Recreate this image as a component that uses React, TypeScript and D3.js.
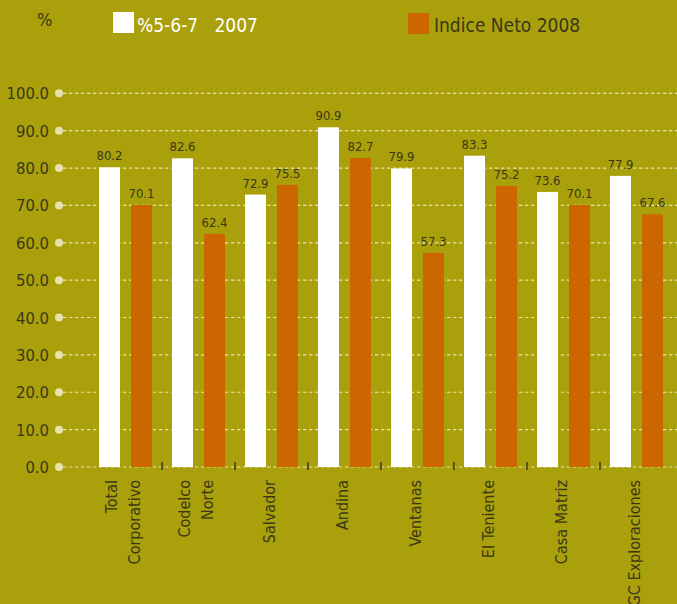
import React from "react";
import * as d3 from "d3";

const categories = [
  "Total Corporativo",
  "Codelco Norte",
  "Salvador",
  "Andina",
  "Ventanas",
  "El Teniente",
  "Casa Matriz",
  "GC Exploraciones",
];
const categoryLines = [
  ["Total", "Corporativo"],
  ["Codelco", "Norte"],
  ["Salvador"],
  ["Andina"],
  ["Ventanas"],
  ["El Teniente"],
  ["Casa Matriz"],
  ["GC Exploraciones"],
];
const series2007 = [80.2, 82.6, 72.9, 90.9, 79.9, 83.3, 73.6, 77.9];
const series2008 = [70.1, 62.4, 75.5, 82.7, 57.3, 75.2, 70.1, 67.6];
const seriesNames = ["%5-6-7   2007", "Indice Neto 2008"];
const yTicks = [0, 10, 20, 30, 40, 50, 60, 70, 80, 90, 100];

const W = 677;
const H = 604;
const BG = "#aaa00b";
const ORANGE = "#cc6600";
const WHITE = "#ffffff";
const DARK = "#3a3818";
const CREAM = "#e6e2b0";
const FONT = "'DejaVu Sans Condensed', 'Liberation Sans Narrow', Roboto, sans-serif";

export default function App() {
  const y = d3.scaleLinear().domain([0, 100]).range([467, 93.3]);
  const x = d3.scaleBand().domain(categories).range([89, 673]).padding(0);
  const inner = d3
    .scaleBand()
    .domain(["a", "b"])
    .range([-26.5, 26.5])
    .paddingInner(0.344)
    .paddingOuter(0);
  const bw = inner.bandwidth();
  const colors = [WHITE, ORANGE];
  const data = [series2007, series2008];

  return (
    <svg
      width={W}
      height={H}
      style={{ position: "absolute", left: 0, top: 0, display: "block" }}
      fontFamily={FONT}
    >
      <rect x={0} y={0} width={W} height={H} fill={BG} />

      {/* gridlines */}
      {yTicks.map((t) => (
        <g key={"g" + t}>
          <line
            x1={63}
            x2={W}
            y1={y(t)}
            y2={y(t)}
            stroke={CREAM}
            strokeWidth={1.2}
            strokeDasharray="3.3,2.7"
          />
          <circle cx={59} cy={y(t)} r={4} fill={CREAM} />
          <text
            x={49}
            y={y(t) + 6}
            textAnchor="end"
            fontSize={16.5}
            fill={DARK}
          >
            {t.toFixed(1)}
          </text>
        </g>
      ))}

      {/* bars */}
      {categories.map((c, i) => {
        const cx = (x(c) as number) + x.bandwidth() / 2;
        return (
          <g key={c}>
            {data.map((s, j) => {
              const bx = cx + (inner(j === 0 ? "a" : "b") as number);
              const v = s[i];
              return (
                <g key={j}>
                  <rect
                    x={bx}
                    y={y(v)}
                    width={bw}
                    height={y(0) - y(v)}
                    fill={colors[j]}
                  />
                  <text
                    x={bx + bw / 2}
                    y={y(v) - 7}
                    textAnchor="middle"
                    fontSize={13}
                    fill={DARK}
                  >
                    {v.toFixed(1)}
                  </text>
                </g>
              );
            })}
          </g>
        );
      })}

      {/* x ticks */}
      {categories.slice(1).map((c) => {
        const tx = x(c) as number;
        return (
          <line
            key={"t" + c}
            x1={tx}
            x2={tx}
            y1={462}
            y2={470}
            stroke={DARK}
            strokeWidth={1.5}
          />
        );
      })}

      {/* x labels */}
      {categories.map((c, i) => {
        const cx = (x(c) as number) + x.bandwidth() / 2;
        const lines = categoryLines[i];
        const n = lines.length;
        return lines.map((ln, k) => {
          const lx = cx + 3 + (k - (n - 1) / 2) * 23;
          return (
            <text
              key={c + k}
              transform={`translate(${lx},480) rotate(-90)`}
              textAnchor="end"
              fontSize={16}
              fill={DARK}
            >
              {ln}
            </text>
          );
        });
      })}

      {/* axis title */}
      <text x={37} y={26} fontSize={18} fill={DARK}>
        %
      </text>

      {/* legend */}
      <rect x={113} y={12} width={21} height={21} fill={WHITE} />
      <text x={137} y={32} fontSize={19} fill={WHITE} style={{ whiteSpace: "pre" }}>
        {seriesNames[0]}
      </text>
      <rect x={408} y={13} width={21} height={21} fill={ORANGE} />
      <text x={434} y={32} fontSize={19} fill={DARK}>
        {seriesNames[1]}
      </text>
    </svg>
  );
}
